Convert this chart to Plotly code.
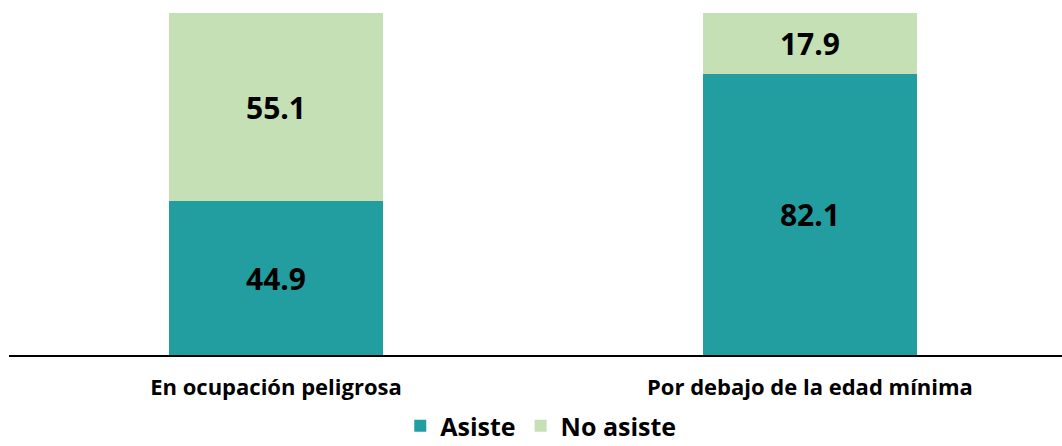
import plotly.graph_objects as go

categories = ["En ocupación peligrosa", "Por debajo de la edad mínima"]
asiste = [44.9, 82.1]
no_asiste = [55.1, 17.9]
series_names = ["Asiste", "No asiste"]
colors = ["#239EA0", "#C5E0B4"]

FONT = "Open Sans"

fig = go.Figure()
for name, vals, col in zip(series_names, [asiste, no_asiste], colors):
    fig.add_trace(go.Bar(
        x=categories, y=vals, name=name,
        marker=dict(color=col, line=dict(width=0)),
        width=0.4,
        text=[f"{v:.1f}" for v in vals],
        textposition="inside", insidetextanchor="middle",
        textfont=dict(family=FONT, size=30, color="black", weight="bold"),
        hoverinfo="skip",
    ))

fig.update_layout(
    barmode="stack",
    width=1062, height=446,
    margin=dict(l=9, r=0, t=13, b=91, autoexpand=False),
    plot_bgcolor="white", paper_bgcolor="white",
    font=dict(family=FONT, color="black"),
    showlegend=True,
    legend=dict(
        orientation="h", x=0.505, xanchor="center", y=-0.275, yanchor="bottom",
        font=dict(family=FONT, size=25, color="black", weight="bold"),
        traceorder="normal", itemwidth=30,
    ),
    uniformtext=dict(mode=False),
)
fig.update_xaxes(
    type="category", range=[-0.5, 1.472],
    showline=True, linecolor="black", linewidth=2,
    showgrid=False, ticks="", automargin=False,
    tickfont=dict(family=FONT, size=22, color="black", weight="bold"),
    ticklabelstandoff=12,
)
fig.update_yaxes(range=[0, 100], visible=False, showgrid=False, automargin=False)

fig.write_html("out.html", config={"displayModeBar": False},
               post_script="document.body.style.margin='0';")
